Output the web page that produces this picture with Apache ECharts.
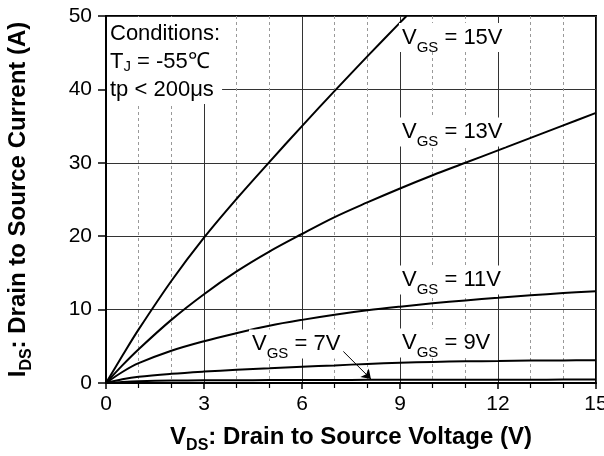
<!DOCTYPE html>
<html>
<head>
<meta charset="utf-8">
<script src="https://cdn.jsdelivr.net/npm/echarts@6/dist/echarts.min.js"></script>
<style>
html,body{margin:0;padding:0;background:#fff;}
#c{width:604px;height:456px;}
</style>
</head>
<body>
<div id="c"></div>
<script>
// ---- data ----
const vdsFull = [0,0.5,1,2,3,4,5,6,7,8,9,10,11,12,13,14,15];
const vds15 = [0,0.5,1,2,3,4,5,6,7,8,9,9.2];
const id15 = [0,3.7,7.3,13.9,19.8,25.1,30.1,35.0,39.8,44.5,49.1,50];
const id13 = [0,2.4,4.6,8.6,12.1,15.2,17.9,20.3,22.6,24.6,26.5,28.3,30.0,31.7,33.4,35.1,36.8];
const id11 = [0,1.5,2.7,4.4,5.7,6.8,7.8,8.6,9.3,9.9,10.4,10.85,11.25,11.6,11.95,12.25,12.5];
const id9  = [0,0.5,0.85,1.25,1.55,1.8,2.0,2.2,2.4,2.6,2.75,2.87,2.95,3.0,3.05,3.08,3.1];
const id7  = [0,0.15,0.25,0.33,0.36,0.38,0.4,0.41,0.42,0.43,0.44,0.44,0.45,0.45,0.45,0.46,0.46];
const seriesNames = ['VGS = 15V','VGS = 13V','VGS = 11V','VGS = 9V','VGS = 7V'];
const xTicks = [0,3,6,9,12,15];
const yTicks = [0,10,20,30,40,50];
const arrowFrom = [7.13, 4.9];
const arrowTo = [8.11, 0.54];

const FONT = "'Liberation Sans', Arial, Helvetica, sans-serif";
const zip = (xs, ys) => xs.map((x, i) => [x, ys[i]]);

const lineSeries = (name, data) => ({
  name, type: 'line', data, symbol: 'none', smooth: 0.35,
  lineStyle: {color: '#000', width: 2}, itemStyle: {color: '#000'},
  clip: true, silent: true, z: 3
});

const chart = echarts.init(document.getElementById('c'), null, {renderer: 'canvas'});
const option = {
  animation: false,
  backgroundColor: '#fff',
  grid: {left: 106, right: 8, top: 16, bottom: 73, outerBoundsMode: 'none', containLabel: false,
         show: true, borderColor: '#000', borderWidth: 2, backgroundColor: 'transparent'},
  xAxis: {
    type: 'value', min: xTicks[0], max: xTicks[xTicks.length-1], interval: xTicks[1]-xTicks[0],
    name: '{a|V}{s|DS}{a|: Drain to Source Voltage (V)}',
    nameLocation: 'middle', nameGap: 40,
    nameTextStyle: {fontFamily: FONT, fontWeight: 'bold', fontSize: 24, color: '#000',
      rich: {a: {fontFamily: FONT, fontWeight: 'bold', fontSize: 24, lineHeight: 28, color: '#000'},
             s: {fontFamily: FONT, fontWeight: 'bold', fontSize: 16, lineHeight: 8, padding: [18,0,0,0], color: '#000'}}},
    axisLine: {show: true, lineStyle: {color: '#000', width: 2}},
    axisTick: {show: true, length: 6, lineStyle: {color: '#000', width: 1.5}},
    minorTick: {show: true, splitNumber: 3, length: 5, lineStyle: {color: '#000', width: 1.2}},
    axisLabel: {fontFamily: FONT, fontSize: 21, color: '#000', margin: 11},
    splitLine: {show: true, lineStyle: {color: '#333', width: 1}},
    minorSplitLine: {show: true, lineStyle: {color: '#999', width: 1, type: [3, 3]}}
  },
  yAxis: {
    type: 'value', min: yTicks[0], max: yTicks[yTicks.length-1], interval: yTicks[1]-yTicks[0],
    name: '{a|I}{s|DS}{a|: Drain to Source Current (A)}',
    nameLocation: 'middle', nameGap: 74, nameRotate: 90,
    nameTextStyle: {fontFamily: FONT, fontWeight: 'bold', fontSize: 24, color: '#000',
      rich: {a: {fontFamily: FONT, fontWeight: 'bold', fontSize: 24, lineHeight: 28, color: '#000'},
             s: {fontFamily: FONT, fontWeight: 'bold', fontSize: 16, lineHeight: 8, padding: [18,0,0,0], color: '#000'}}},
    axisLine: {show: true, lineStyle: {color: '#000', width: 2}},
    axisTick: {show: true, length: 8, lineStyle: {color: '#000', width: 1.5}},
    axisLabel: {fontFamily: FONT, fontSize: 21, color: '#000', margin: 14},
    splitLine: {show: true, lineStyle: {color: '#333', width: 1}}
  },
  series: [
    lineSeries(seriesNames[0], zip(vds15, id15)),
    lineSeries(seriesNames[1], zip(vdsFull, id13)),
    lineSeries(seriesNames[2], zip(vdsFull, id11)),
    lineSeries(seriesNames[3], zip(vdsFull, id9)),
    lineSeries(seriesNames[4], zip(vdsFull, id7)),
    {
      type: 'lines', coordinateSystem: 'cartesian2d', silent: true, z: 4,
      symbol: ['none', 'arrow'], symbolSize: 9,
      lineStyle: {color: '#000', width: 1, opacity: 1},
      data: [{coords: [arrowFrom, arrowTo]}]
    }
  ]
};
chart.setOption(option);

// annotation anchors (data coords: left edge, vertical centre of main text)
const labelAnchors = [
  {n: '15V', at: [9.06, 47.07]},
  {n: '13V', at: [9.06, 34.2]},
  {n: '11V', at: [9.06, 14.03]},
  {n: '9V',  at: [9.06, 5.45]},
  {n: '7V',  at: [4.47, 5.31]}
];
const px = c => chart.convertToPixel({gridIndex: 0}, c);
const richStyle = {
  a: {fontFamily: FONT, fontSize: 22, lineHeight: 27, fill: '#000', color: '#000'},
  s: {fontFamily: FONT, fontSize: 15, lineHeight: 8, padding: [20,0,0,0], fill: '#000', color: '#000'},
  j: {fontFamily: FONT, fontSize: 15, lineHeight: 12, padding: [9,0,0,0], fill: '#000', color: '#000'}
};
const graphics = labelAnchors.map(l => {
  const p = px(l.at);
  return {
    type: 'text', x: p[0] - 3, y: p[1], z: 10,
    style: {
      text: '{a|V}{s|GS}{a| = ' + l.n + '}',
      rich: richStyle, verticalAlign: 'middle', align: 'left',
      backgroundColor: '#fff', padding: [1, 3, 1, 3]
    }
  };
});
const corner = px([0, 50]);
graphics.push({
  type: 'text', x: corner[0] + 1, y: corner[1] + 1, z: 10,
  style: {
    text: '{a|Conditions:}\n{a|T}{j|J}{a| = -55℃}\n{a|tp < 200μs}',
    rich: {a: {fontFamily: FONT, fontSize: 22, lineHeight: 28, fill: '#000', color: '#000'}, j: richStyle.j},
    verticalAlign: 'top', align: 'left',
    backgroundColor: '#fff', padding: [3, 2, 0, 3]
  }
});
chart.setOption({graphic: graphics});
</script>
</body>
</html>
